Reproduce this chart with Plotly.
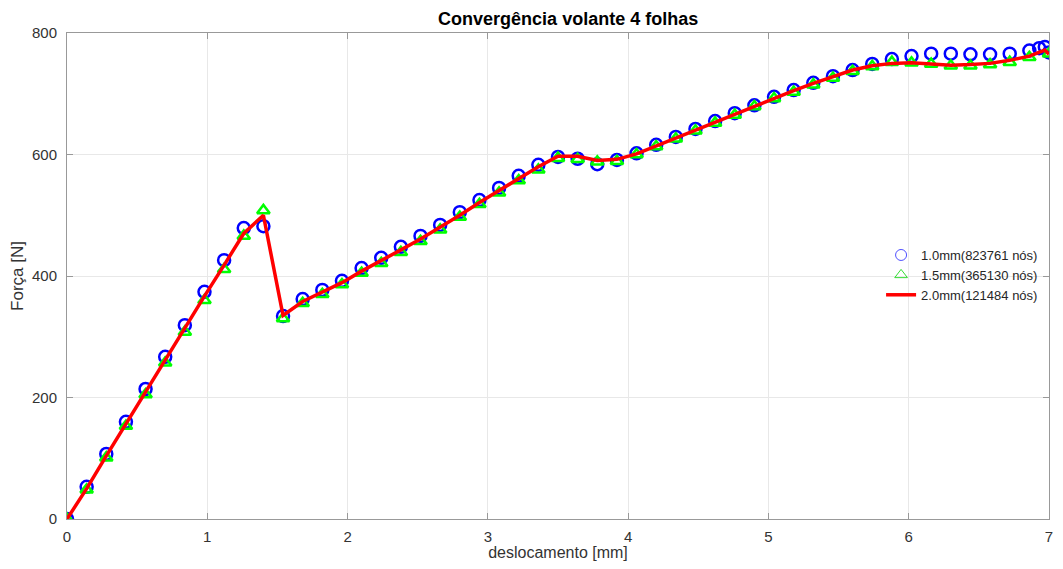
import plotly.graph_objects as go

# x grid (mm)
x_grid = [0.0, 0.14, 0.28, 0.42, 0.56, 0.7, 0.84, 0.98, 1.12, 1.26, 1.4, 1.54, 1.68, 1.82, 1.96,
          2.1, 2.24, 2.38, 2.52, 2.66, 2.8, 2.94, 3.08, 3.22, 3.36, 3.5, 3.64, 3.78, 3.92, 4.06,
          4.2, 4.34, 4.48, 4.62, 4.76, 4.9, 5.04, 5.18, 5.32, 5.46, 5.6, 5.74, 5.88, 6.02, 6.16,
          6.3, 6.44, 6.58, 6.72, 6.86]

# 1.0mm mesh
x_10 = x_grid + [6.93, 6.97, 7.0]
f_10 = [0, 53, 107, 160, 214, 267, 319, 374, 426, 479, 482, 334, 362, 377, 392,
        413, 430, 448, 466, 484, 505, 525, 545, 565, 583, 596, 593, 584, 591, 602,
        616, 629, 642, 655, 668, 681, 695, 706, 718, 729, 739, 749, 757, 762, 766,
        766, 765, 765, 766, 771, 775, 777, 768]

# 1.5mm mesh
x_15 = x_grid + [7.0]
f_15 = [0, 48, 101, 153, 205, 257, 308, 360, 411, 466, 508, 330, 355, 370, 386,
        405, 421, 439, 457, 476, 497, 518, 537, 557, 575, 594, 592, 588, 589, 600,
        613, 626, 639, 652, 665, 679, 692, 703, 715, 726, 737, 745, 752, 751, 749,
        746, 746, 748, 752, 760, 766]

# 2.0mm mesh
x_20 = x_grid + [6.97, 7.0]
f_20 = [0, 50, 104, 157, 210, 262, 314, 367, 418, 470, 500, 335, 358, 373, 389,
        408, 425, 443, 461, 480, 500, 521, 541, 561, 580, 597, 597, 590, 592, 601,
        614, 627, 640, 653, 666, 680, 693, 705, 717, 728, 739, 746, 750, 751, 749,
        747, 748, 750, 755, 762, 772, 765]

names = ["1.0mm(823761 nós)", "1.5mm(365130 nós)", "2.0mm(121484 nós)"]

FONT = "Liberation Sans, Arial, sans-serif"

fig = go.Figure()
# data traces
fig.add_trace(go.Scatter(x=x_10, y=f_10, mode="markers", name=names[0], showlegend=False,
                         legendgroup="g10",
                         marker=dict(symbol="circle-open", size=12, color="#0000ff",
                                     line=dict(width=2.5, color="#0000ff"))))
fig.add_trace(go.Scatter(x=x_15, y=f_15, mode="markers", name=names[1], showlegend=False,
                         legendgroup="g15",
                         marker=dict(symbol="triangle-up-open", size=11, color="#00ff00",
                                     line=dict(width=2.5, color="#00ff00"))))
fig.add_trace(go.Scatter(x=x_20, y=f_20, mode="lines", name=names[2], showlegend=False,
                         legendgroup="g20",
                         line=dict(color="#ff0000", width=3.5)))
# legend entries (thin markers as in the reference legend)
fig.add_trace(go.Scatter(x=[None], y=[None], mode="markers", name=names[0], legendgroup="g10",
                         marker=dict(symbol="circle-open", size=11, color="#5050ff",
                                     line=dict(width=1, color="#5050ff"))))
fig.add_trace(go.Scatter(x=[None], y=[None], mode="markers", name=names[1], legendgroup="g15",
                         marker=dict(symbol="triangle-up-open", size=11, color="#33dd33",
                                     line=dict(width=1, color="#33dd33"))))
fig.add_trace(go.Scatter(x=[None], y=[None], mode="lines", name=names[2], legendgroup="g20",
                         line=dict(color="#ff0000", width=3.5)))

axis_common = dict(showline=True, linecolor="#999999", linewidth=1, mirror="ticks",
                   ticks="inside", ticklen=6, tickcolor="#999999",
                   showgrid=True, gridcolor="#e8e8e8", gridwidth=1, zeroline=False,
                   automargin=False,
                   tickfont=dict(family=FONT, size=15, color="#333333"))

fig.update_layout(
    width=1047, height=553,
    margin=dict(l=59, r=6, t=25, b=42),
    paper_bgcolor="white", plot_bgcolor="white",
    font=dict(family=FONT, color="#262626"),
    title=dict(text="<b>Convergência volante 4 folhas</b>", x=0.535, xanchor="center",
               y=0.980, yanchor="middle",
               font=dict(family=FONT, size=18, color="#000000")),
    showlegend=True,
    legend=dict(x=0.829, y=0.502, xanchor="left", yanchor="middle",
                bgcolor="rgba(0,0,0,0)", borderwidth=0,
                font=dict(family=FONT, size=13, color="#262626"), tracegroupgap=0, itemwidth=30),
)
fig.update_xaxes(range=[0, 7], dtick=1, ticklabelstandoff=4,
                 title=dict(text="deslocamento [mm]", standoff=4,
                            font=dict(family=FONT, size=16, color="#333333")),
                 **axis_common)
fig.update_yaxes(range=[0, 800], dtick=200, ticklabelstandoff=6,
                 title=dict(text="Força [N]", standoff=6,
                            font=dict(family=FONT, size=17, color="#333333")),
                 **axis_common)

fig.write_html("out.html")
